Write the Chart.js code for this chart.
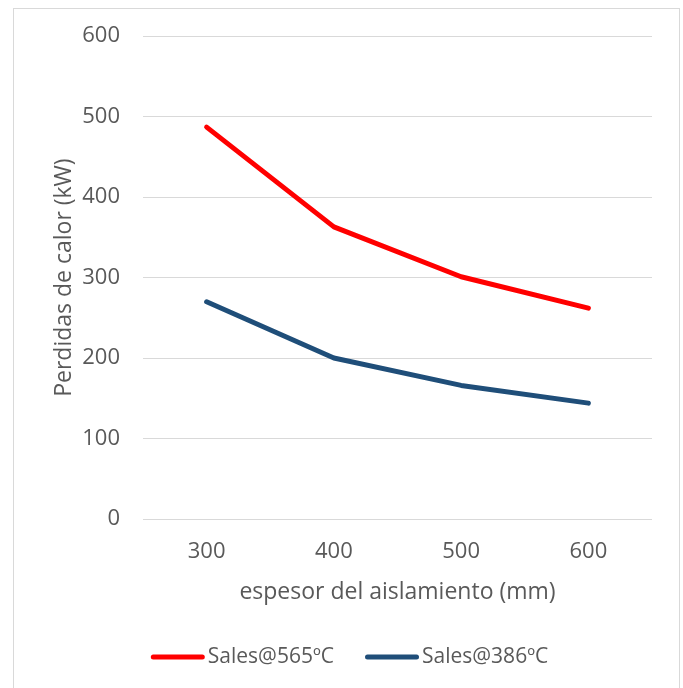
<!DOCTYPE html>
<html>
<head>
<meta charset="utf-8">
<script src="https://cdn.jsdelivr.net/npm/chart.js@4"></script>
<style>
  html, body { margin: 0; padding: 0; background: #ffffff; overflow: hidden; }
  #wrap { position: relative; width: 683px; height: 688px; overflow: hidden; }
  #frame { position: absolute; left: 13px; top: 8px; width: 667px; height: 700px; border: 1px solid #d9d9d9; box-sizing: border-box; pointer-events: none; }
  canvas { position: absolute; left: 0; top: 0; }
</style>
</head>
<body>
<div id="wrap">
  <canvas id="c" width="683" height="688"></canvas>
  <div id="frame"></div>
</div>
<script>
// Insulation thickness (mm) and heat losses (kW)
const thickness = ['300', '400', '500', '600'];
const losses565 = [487, 363, 301, 262];
const losses386 = [270, 200, 166, 144];
const yTicks = [0, 100, 200, 300, 400, 500, 600];

const FONT = '"Open Sans", sans-serif';
const TXT = '#595959';

// Legend drawn as a short line sample followed by the series name
const lineLegend = {
  id: 'lineLegend',
  afterDraw(chart) {
    const ctx = chart.ctx;
    const sample = 54, gap = 3, itemGap = 31, centerX = 349.5, y = 657;
    ctx.save();
    ctx.font = '21px ' + FONT;
    const items = chart.data.datasets.map(ds => ({
      ds, w: sample + gap + ctx.measureText(ds.label).width
    }));
    const total = items.reduce((a, it) => a + it.w, 0) + itemGap * (items.length - 1);
    let x = centerX - total / 2;
    items.forEach(it => {
      ctx.strokeStyle = it.ds.borderColor;
      ctx.lineWidth = 5;
      ctx.lineCap = 'round';
      ctx.beginPath();
      ctx.moveTo(x + 2.5, y);
      ctx.lineTo(x + sample - 2.5, y);
      ctx.stroke();
      ctx.fillStyle = TXT;
      ctx.textBaseline = 'middle';
      ctx.textAlign = 'left';
      ctx.fillText(it.ds.label, x + sample + gap, y);
      x += it.w + itemGap;
    });
    ctx.restore();
  }
};

new Chart(document.getElementById('c'), {
  type: 'line',
  data: {
    labels: thickness,
    datasets: [
      { label: 'Sales@565ºC', data: losses565, borderColor: '#ff0000', backgroundColor: '#ff0000',
        borderWidth: 5, pointRadius: 0, borderCapStyle: 'round', borderJoinStyle: 'round', tension: 0 },
      { label: 'Sales@386ºC', data: losses386, borderColor: '#1f4e79', backgroundColor: '#1f4e79',
        borderWidth: 5, pointRadius: 0, borderCapStyle: 'round', borderJoinStyle: 'round', tension: 0 }
    ]
  },
  options: {
    responsive: false,
    animation: false,
    layout: { padding: { left: 51, right: 31, top: 35, bottom: 60 } },
    plugins: {
      tooltip: { enabled: false },
      legend: { display: false }
    },
    scales: {
      x: {
        offset: true,
        grid: { display: false, drawTicks: false },
        border: { display: false },
        ticks: { color: TXT, font: { family: FONT, size: 22 }, padding: 20 },
        title: { display: true, text: 'espesor del aislamiento (mm)', color: TXT,
                 font: { family: FONT, size: 23 }, padding: { top: 0, bottom: 22 } },
        afterFit: (s) => { s.height = 109; }
      },
      y: {
        min: 0, max: 600,
        afterBuildTicks: (s) => { s.ticks = yTicks.map(v => ({ value: v })); },
        grid: { color: '#d9d9d9', lineWidth: 1, drawTicks: false },
        border: { display: false },
        ticks: { color: TXT, font: { family: FONT, size: 22 }, padding: 23 },
        title: { display: true, text: 'Perdidas de calor (kW)', color: TXT,
                 font: { family: FONT, size: 23 }, padding: { top: 0, bottom: 0 } },
        afterFit: (s) => { s.width = 92; }
      }
    }
  },
  plugins: [lineLegend]
});
</script>
</body>
</html>
